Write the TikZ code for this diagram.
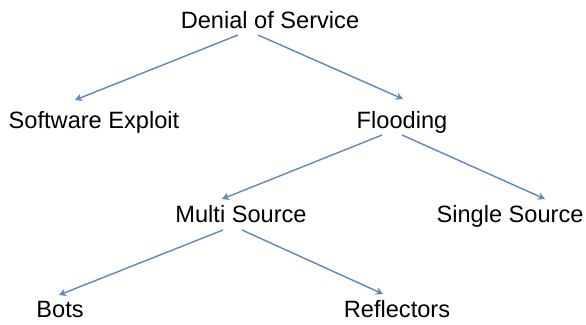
\documentclass[tikz,border=0pt]{standalone}
\usepackage{fontspec}
\setmainfont{Liberation Sans}
\usetikzlibrary{arrows.meta,calc}
\begin{document}
\begin{tikzpicture}[x=1pt,y=-1pt,
  label/.style={inner sep=0pt,anchor=base,font=\fontsize{23.6}{28}\selectfont},
  arr/.style={draw={rgb,255:red,94;green,135;blue,192},line width=1.4pt,
    -{Stealth[length=7pt,width=7.5pt,inset=2pt]}}]
\useasboundingbox[fill=white] (0,0) rectangle (586,324);

% tree labels
\node[label] (den)  at (270,28)  {Denial of Service};
\node[label] (se)   at (94,128)  {Software Exploit};
\node[label] (fl)   at (402,128) {Flooding};
\node[label] (ms)   at (241,222) {Multi Source};
\node[label] (ss)   at (510,222) {Single Source};
\node[label] (bots) at (60,317)  {Bots};
\node[label] (ref)  at (397,317) {Reflectors};

% branches
\draw[arr] ($(den.base)+(-32,7)$) -- ($(se.base)+(-19,-28)$);
\draw[arr] ($(den.base)+(-12,7)$) -- ($(fl.base)+(1,-29)$);
\draw[arr] ($(fl.base)+(-20,7)$)  -- ($(ms.base)+(-19,-23)$);
\draw[arr] ($(fl.base)+(0,7)$)    -- ($(ss.base)+(35,-23)$);
\draw[arr] ($(ms.base)+(-18,8)$)  -- ($(bots.base)+(-1,-22)$);
\draw[arr] ($(ms.base)+(1,8)$)    -- ($(ref.base)+(-14,-23)$);
\end{tikzpicture}
\end{document}
